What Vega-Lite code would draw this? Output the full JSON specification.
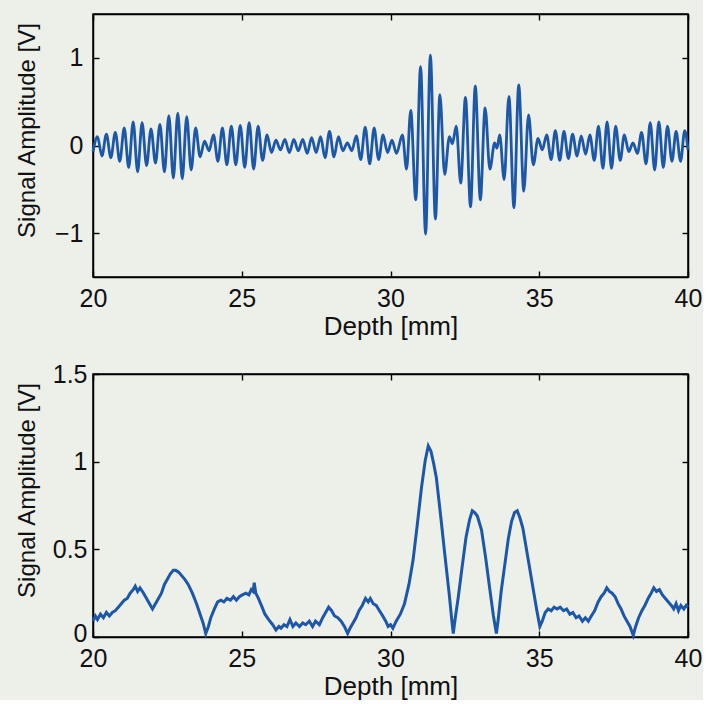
{
  "$schema": "https://vega.github.io/schema/vega-lite/v6.json",
  "background": "#edefe9",
  "padding": {"left": 14, "top": 12, "right": 0, "bottom": 0},
  "bounds": "flush",
  "spacing": 97,
  "config": {
    "view": {"stroke": "#000000", "strokeWidth": 1.5},
    "axis": {"grid": false, "domainColor": "#000000", "domainWidth": 1.5, "tickColor": "#000000", "tickSize": -6, "tickWidth": 1.4,
      "labelFont": "Liberation Sans", "labelFontSize": 25, "labelColor": "#111111", "titleFont": "Liberation Sans", "titleColor": "#111111",
      "titleFontWeight": "normal", "labelFlush": false, "labelOverlap": false}
  },
  "datasets": {
    "sig": [
      {"d":20.00,"v":-0.07},{"d":20.15,"v":0.10},{"d":20.30,"v":-0.12},{"d":20.45,"v":0.13},{"d":20.60,"v":-0.14},{"d":20.75,"v":0.15},
      {"d":20.90,"v":-0.18},{"d":21.05,"v":0.20},{"d":21.20,"v":-0.25},{"d":21.35,"v":0.27},{"d":21.50,"v":-0.30},{"d":21.65,"v":0.26},
      {"d":21.80,"v":-0.23},{"d":21.95,"v":0.19},{"d":22.10,"v":-0.20},{"d":22.25,"v":0.24},{"d":22.40,"v":-0.30},{"d":22.55,"v":0.34},
      {"d":22.70,"v":-0.37},{"d":22.85,"v":0.37},{"d":23.00,"v":-0.38},{"d":23.15,"v":0.33},{"d":23.30,"v":-0.28},{"d":23.45,"v":0.20},
      {"d":23.60,"v":-0.13},{"d":23.75,"v":0.05},{"d":23.90,"v":-0.06},{"d":24.05,"v":0.12},{"d":24.20,"v":-0.18},{"d":24.35,"v":0.20},
      {"d":24.50,"v":-0.22},{"d":24.65,"v":0.22},{"d":24.80,"v":-0.22},{"d":24.95,"v":0.23},{"d":25.10,"v":-0.25},{"d":25.25,"v":0.26},
      {"d":25.40,"v":-0.27},{"d":25.55,"v":0.22},{"d":25.70,"v":-0.17},{"d":25.85,"v":0.12},{"d":26.00,"v":-0.08},{"d":26.15,"v":0.06},
      {"d":26.30,"v":-0.05},{"d":26.45,"v":0.07},{"d":26.60,"v":-0.08},{"d":26.75,"v":0.07},{"d":26.90,"v":-0.06},{"d":27.05,"v":0.07},
      {"d":27.20,"v":-0.09},{"d":27.35,"v":0.09},{"d":27.50,"v":-0.08},{"d":27.65,"v":0.10},{"d":27.80,"v":-0.14},{"d":27.95,"v":0.16},
      {"d":28.10,"v":-0.13},{"d":28.25,"v":0.10},{"d":28.40,"v":-0.06},{"d":28.55,"v":0.03},{"d":28.70,"v":-0.06},{"d":28.85,"v":0.11},
      {"d":29.00,"v":-0.16},{"d":29.15,"v":0.21},{"d":29.30,"v":-0.21},{"d":29.45,"v":0.20},{"d":29.60,"v":-0.16},{"d":29.75,"v":0.12},
      {"d":29.90,"v":-0.08},{"d":30.05,"v":0.06},{"d":30.20,"v":-0.09},
      {"d":30.40,"v":0.12},{"d":30.54,"v":-0.27},{"d":30.68,"v":0.40},{"d":30.85,"v":-0.62},{"d":31.01,"v":0.90},{"d":31.18,"v":-1.01},
      {"d":31.34,"v":1.03},{"d":31.51,"v":-0.84},{"d":31.66,"v":0.58},{"d":31.82,"v":-0.33},{"d":31.98,"v":0.10},{"d":32.08,"v":0.02},
      {"d":32.21,"v":0.22},{"d":32.36,"v":-0.43},{"d":32.52,"v":0.55},{"d":32.69,"v":-0.70},{"d":32.85,"v":0.68},{"d":33.02,"v":-0.62},
      {"d":33.18,"v":0.43},{"d":33.34,"v":-0.27},{"d":33.50,"v":0.03},{"d":33.58,"v":-0.03},{"d":33.67,"v":0.12},{"d":33.82,"v":-0.39},
      {"d":33.98,"v":0.56},{"d":34.15,"v":-0.71},{"d":34.31,"v":0.69},{"d":34.48,"v":-0.52},{"d":34.64,"v":0.35},{"d":34.80,"v":-0.22},
      {"d":34.96,"v":0.08},{"d":35.10,"v":-0.05},
      {"d":35.25,"v":0.12},{"d":35.40,"v":-0.16},{"d":35.54,"v":0.17},{"d":35.69,"v":-0.17},{"d":35.83,"v":0.16},{"d":35.98,"v":-0.15},
      {"d":36.12,"v":0.13},{"d":36.27,"v":-0.12},{"d":36.41,"v":0.11},{"d":36.56,"v":-0.10},{"d":36.70,"v":0.12},{"d":36.85,"v":-0.17},
      {"d":36.99,"v":0.22},{"d":37.14,"v":-0.26},{"d":37.28,"v":0.27},{"d":37.43,"v":-0.26},{"d":37.57,"v":0.22},{"d":37.72,"v":-0.17},
      {"d":37.86,"v":0.12},{"d":38.01,"v":-0.07},{"d":38.15,"v":0.03},{"d":38.30,"v":-0.09},{"d":38.44,"v":0.15},{"d":38.59,"v":-0.21},
      {"d":38.73,"v":0.26},{"d":38.88,"v":-0.28},{"d":39.02,"v":0.27},{"d":39.17,"v":-0.25},{"d":39.31,"v":0.22},{"d":39.46,"v":-0.18},
      {"d":39.60,"v":0.16},{"d":39.75,"v":-0.18},{"d":39.89,"v":0.17},{"d":40.00,"v":-0.05}
    ],
    "env": [
      {"d":20.00,"v":0.09},{"d":20.08,"v":0.12},{"d":20.15,"v":0.10},{"d":20.25,"v":0.13},{"d":20.35,"v":0.11},{"d":20.45,"v":0.14},
      {"d":20.55,"v":0.12},{"d":20.65,"v":0.14},{"d":20.75,"v":0.15},{"d":20.85,"v":0.17},{"d":20.95,"v":0.19},{"d":21.05,"v":0.21},
      {"d":21.15,"v":0.22},{"d":21.25,"v":0.25},{"d":21.35,"v":0.27},{"d":21.42,"v":0.29},{"d":21.50,"v":0.26},{"d":21.58,"v":0.28},
      {"d":21.70,"v":0.25},{"d":21.80,"v":0.22},{"d":21.90,"v":0.19},{"d":22.00,"v":0.16},{"d":22.10,"v":0.19},{"d":22.20,"v":0.22},
      {"d":22.30,"v":0.25},{"d":22.40,"v":0.30},{"d":22.50,"v":0.33},{"d":22.60,"v":0.36},{"d":22.70,"v":0.38},{"d":22.78,"v":0.38},
      {"d":22.88,"v":0.37},{"d":22.98,"v":0.35},{"d":23.08,"v":0.33},{"d":23.20,"v":0.30},{"d":23.34,"v":0.25},{"d":23.48,"v":0.19},
      {"d":23.60,"v":0.13},{"d":23.70,"v":0.08},{"d":23.79,"v":0.02},{"d":23.88,"v":0.06},{"d":23.96,"v":0.11},{"d":24.08,"v":0.16},
      {"d":24.19,"v":0.20},{"d":24.30,"v":0.21},{"d":24.40,"v":0.20},{"d":24.50,"v":0.22},{"d":24.62,"v":0.21},{"d":24.72,"v":0.23},
      {"d":24.82,"v":0.21},{"d":24.92,"v":0.23},{"d":25.02,"v":0.24},{"d":25.14,"v":0.25},{"d":25.24,"v":0.24},{"d":25.32,"v":0.27},
      {"d":25.38,"v":0.26},{"d":25.42,"v":0.31},{"d":25.47,"v":0.25},{"d":25.56,"v":0.22},{"d":25.66,"v":0.18},{"d":25.78,"v":0.13},
      {"d":25.90,"v":0.10},{"d":26.04,"v":0.07},{"d":26.15,"v":0.04},{"d":26.25,"v":0.06},{"d":26.32,"v":0.05},{"d":26.42,"v":0.07},
      {"d":26.52,"v":0.06},{"d":26.62,"v":0.10},{"d":26.72,"v":0.06},{"d":26.82,"v":0.08},{"d":26.94,"v":0.06},{"d":27.05,"v":0.08},
      {"d":27.15,"v":0.07},{"d":27.27,"v":0.09},{"d":27.38,"v":0.06},{"d":27.48,"v":0.09},{"d":27.61,"v":0.07},{"d":27.72,"v":0.11},
      {"d":27.82,"v":0.14},{"d":27.92,"v":0.17},{"d":28.02,"v":0.15},{"d":28.12,"v":0.12},{"d":28.23,"v":0.11},{"d":28.34,"v":0.09},
      {"d":28.45,"v":0.06},{"d":28.56,"v":0.02},{"d":28.64,"v":0.05},{"d":28.74,"v":0.08},{"d":28.84,"v":0.11},{"d":28.94,"v":0.15},
      {"d":29.05,"v":0.18},{"d":29.16,"v":0.22},{"d":29.25,"v":0.20},{"d":29.32,"v":0.22},{"d":29.42,"v":0.19},{"d":29.52,"v":0.18},
      {"d":29.63,"v":0.15},{"d":29.74,"v":0.12},{"d":29.84,"v":0.09},{"d":29.92,"v":0.06},{"d":30.00,"v":0.07},{"d":30.08,"v":0.05},
      {"d":30.19,"v":0.09},{"d":30.33,"v":0.13},{"d":30.47,"v":0.19},{"d":30.62,"v":0.30},{"d":30.76,"v":0.44},{"d":30.90,"v":0.64},
      {"d":31.04,"v":0.85},{"d":31.17,"v":1.01},{"d":31.27,"v":1.09},{"d":31.36,"v":1.06},{"d":31.45,"v":0.99},{"d":31.54,"v":0.91},
      {"d":31.68,"v":0.70},{"d":31.82,"v":0.48},{"d":31.97,"v":0.25},{"d":32.07,"v":0.08},{"d":32.11,"v":0.02},{"d":32.17,"v":0.10},
      {"d":32.28,"v":0.23},{"d":32.40,"v":0.39},{"d":32.54,"v":0.57},{"d":32.66,"v":0.67},{"d":32.75,"v":0.72},{"d":32.83,"v":0.71},
      {"d":32.92,"v":0.69},{"d":33.06,"v":0.61},{"d":33.20,"v":0.45},{"d":33.34,"v":0.27},{"d":33.46,"v":0.12},{"d":33.56,"v":0.02},
      {"d":33.62,"v":0.10},{"d":33.72,"v":0.26},{"d":33.84,"v":0.41},{"d":33.96,"v":0.56},{"d":34.07,"v":0.66},{"d":34.17,"v":0.71},
      {"d":34.26,"v":0.72},{"d":34.35,"v":0.68},{"d":34.45,"v":0.62},{"d":34.56,"v":0.51},{"d":34.68,"v":0.39},{"d":34.80,"v":0.27},
      {"d":34.92,"v":0.15},{"d":35.02,"v":0.06},{"d":35.10,"v":0.09},{"d":35.20,"v":0.14},{"d":35.30,"v":0.16},{"d":35.40,"v":0.15},
      {"d":35.50,"v":0.17},{"d":35.60,"v":0.16},{"d":35.70,"v":0.17},{"d":35.82,"v":0.15},{"d":35.92,"v":0.16},{"d":36.03,"v":0.13},
      {"d":36.13,"v":0.14},{"d":36.24,"v":0.11},{"d":36.34,"v":0.12},{"d":36.45,"v":0.09},{"d":36.55,"v":0.11},{"d":36.65,"v":0.09},
      {"d":36.75,"v":0.12},{"d":36.86,"v":0.15},{"d":36.98,"v":0.20},{"d":37.08,"v":0.23},{"d":37.18,"v":0.25},{"d":37.27,"v":0.28},
      {"d":37.36,"v":0.26},{"d":37.45,"v":0.25},{"d":37.55,"v":0.23},{"d":37.65,"v":0.19},{"d":37.75,"v":0.16},{"d":37.85,"v":0.12},
      {"d":37.95,"v":0.09},{"d":38.05,"v":0.06},{"d":38.16,"v":0.01},{"d":38.24,"v":0.06},{"d":38.34,"v":0.11},{"d":38.45,"v":0.15},
      {"d":38.55,"v":0.18},{"d":38.66,"v":0.22},{"d":38.76,"v":0.25},{"d":38.85,"v":0.28},{"d":38.94,"v":0.26},{"d":39.04,"v":0.27},
      {"d":39.14,"v":0.24},{"d":39.24,"v":0.22},{"d":39.34,"v":0.20},{"d":39.44,"v":0.18},{"d":39.52,"v":0.16},{"d":39.60,"v":0.19},
      {"d":39.68,"v":0.15},{"d":39.76,"v":0.18},{"d":39.86,"v":0.16},{"d":39.94,"v":0.18},{"d":40.00,"v":0.17}
    ]
  },
  "vconcat": [
    {
      "width": 595, "height": 263,
      "data": {"name": "sig"},
      "resolve": {"axis": {"x": "independent", "y": "independent"}},
      "layer": [
        {
          "mark": {"type": "line", "color": "#1c57a8", "strokeWidth": 2.8, "interpolate": "monotone"},
          "encoding": {
            "x": {"field": "d", "type": "quantitative", "scale": {"domain": [20, 40], "nice": false},
              "axis": {"values": [20, 25, 30, 35, 40], "title": "Depth [mm]", "titleFontSize": 26, "labelPadding": 15, "titlePadding": 2}},
            "y": {"field": "v", "type": "quantitative", "scale": {"domain": [-1.5, 1.5], "nice": false},
              "axis": {"values": [-1, 0, 1], "title": "Signal Amplitude [V]", "titleFontSize": 24, "titleX": -66, "titleY": 116,
                "titleAngle": -90, "titleAlign": "center", "titleBaseline": "middle", "labelPadding": 16}}
          }
        },
        {
          "mark": {"type": "line", "opacity": 0},
          "encoding": {
            "x": {"field": "d", "type": "quantitative", "axis": {"orient": "top", "values": [20, 25, 30, 35, 40], "labels": false, "title": null}},
            "y": {"field": "v", "type": "quantitative", "axis": {"orient": "right", "values": [-1, 0, 1], "labels": false, "title": null}}
          }
        }
      ]
    },
    {
      "width": 595, "height": 263,
      "data": {"name": "env"},
      "resolve": {"axis": {"x": "independent", "y": "independent"}},
      "layer": [
        {
          "mark": {"type": "line", "color": "#1c57a8", "strokeWidth": 3, "interpolate": "linear"},
          "encoding": {
            "x": {"field": "d", "type": "quantitative", "scale": {"domain": [20, 40], "nice": false},
              "axis": {"values": [20, 25, 30, 35, 40], "title": "Depth [mm]", "titleFontSize": 26, "labelPadding": 15, "titlePadding": 2}},
            "y": {"field": "v", "type": "quantitative", "scale": {"domain": [0, 1.5], "nice": false},
              "axis": {"values": [0, 0.5, 1, 1.5], "format": "~g", "title": "Signal Amplitude [V]", "titleFontSize": 24, "titleX": -66, "titleY": 116,
                "titleAngle": -90, "titleAlign": "center", "titleBaseline": "middle", "labelPadding": 12,
                "labelOffset": {"condition": {"test": "datum.value === 0", "value": -4}, "value": 0}}}
          }
        },
        {
          "mark": {"type": "line", "opacity": 0},
          "encoding": {
            "x": {"field": "d", "type": "quantitative", "axis": {"orient": "top", "values": [20, 25, 30, 35, 40], "labels": false, "title": null}},
            "y": {"field": "v", "type": "quantitative", "axis": {"orient": "right", "values": [0, 0.5, 1, 1.5], "labels": false, "title": null}}
          }
        }
      ]
    }
  ]
}
